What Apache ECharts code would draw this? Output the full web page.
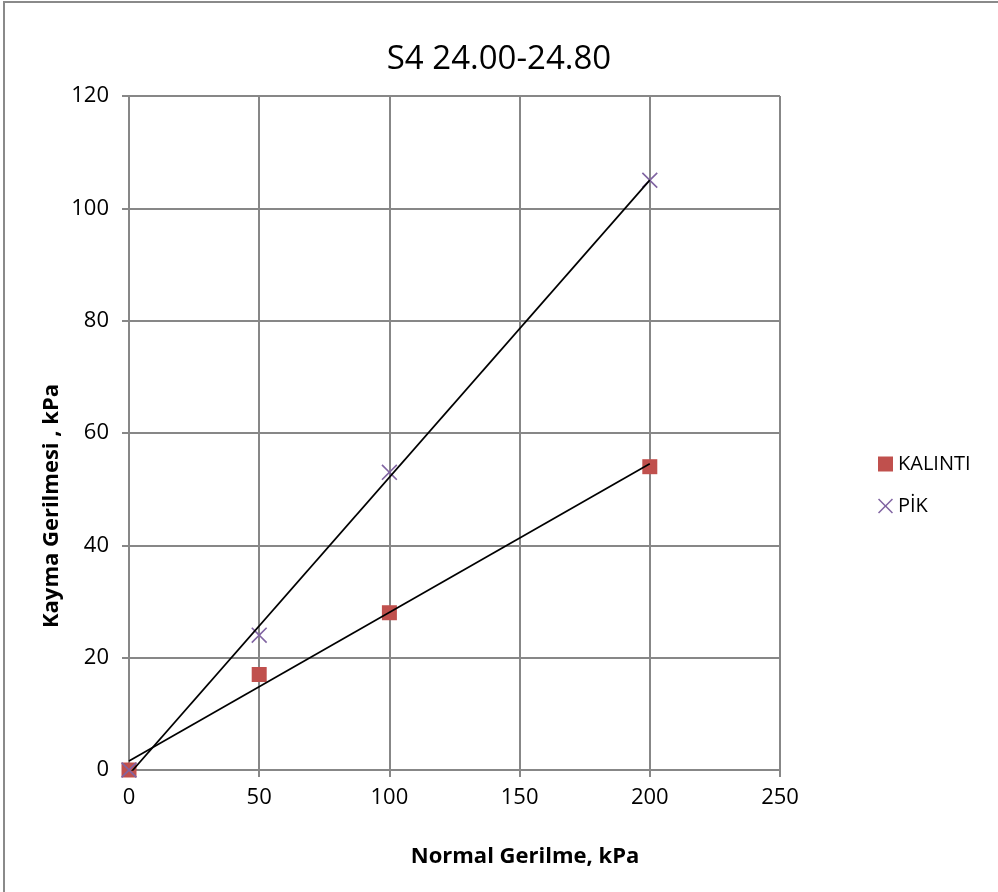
<!DOCTYPE html>
<html>
<head>
<meta charset="utf-8">
<script src="https://cdn.jsdelivr.net/npm/echarts@6/dist/echarts.min.js"></script>
<style>html,body{margin:0;padding:0;background:#fff;}#c{width:998px;height:892px;}</style>
</head>
<body>
<div id="c"></div>
<script>
const titleText = 'S4 24.00-24.80';
const xName = 'Normal Gerilme, kPa';
const yName = 'Kayma Gerilmesi , kPa';
const normalStress = [0, 50, 100, 200];
const kalinti = [0, 17, 28, 54];
const pik = [0, 24, 53, 105];
const seriesNames = ['KALINTI', 'PİK'];

function fit(xs, ys) {
  const n = xs.length;
  const mx = xs.reduce((a, b) => a + b, 0) / n;
  const my = ys.reduce((a, b) => a + b, 0) / n;
  let sxy = 0, sxx = 0;
  for (let i = 0; i < n; i++) { sxy += (xs[i] - mx) * (ys[i] - my); sxx += (xs[i] - mx) ** 2; }
  const b = sxy / sxx, a = my - b * mx;
  const x0 = Math.min(...xs), x1 = Math.max(...xs);
  return [[x0, a + b * x0], [x1, a + b * x1]];
}
const pairs = (ys) => normalStress.map((x, i) => [x, ys[i]]);
const crossPath = 'path://M0,1L1,0L7,6L13,0L14,1L8,7L14,13L13,14L7,8L1,14L0,13L6,7Z';
const font = 'Open Sans';

const chart = echarts.init(document.getElementById('c'));
chart.setOption({
  animation: false,
  backgroundColor: '#fff',
  title: { text: titleText, left: 494, textAlign: 'center', top: 38,
    textStyle: { fontFamily: font, fontSize: 33, fontWeight: 'normal', color: '#000' } },
  legend: {
    data: [{ name: seriesNames[0], icon: 'rect' }, { name: seriesNames[1], icon: crossPath }],
    orient: 'vertical', left: 873, top: 449, itemGap: 22, itemWidth: 15, itemHeight: 15,
    textStyle: { fontFamily: font, fontSize: 20, color: '#000' }
  },
  grid: { left: 129, right: 218, top: 96, bottom: 122 },
  xAxis: {
    type: 'value', min: 0, max: 250, interval: 50,
    axisLine: { show: true, lineStyle: { color: '#878787', width: 2 } },
    axisTick: { show: true, length: 7, lineStyle: { color: '#878787', width: 2 } },
    axisLabel: { fontFamily: font, fontSize: 22, color: '#000', margin: 17 },
    splitLine: { show: true, lineStyle: { color: '#878787', width: 2 } }
  },
  yAxis: {
    type: 'value', min: 0, max: 120, interval: 20,
    axisLine: { show: true, lineStyle: { color: '#878787', width: 2 } },
    axisTick: { show: true, length: 7, lineStyle: { color: '#878787', width: 2 } },
    axisLabel: { fontFamily: font, fontSize: 22, color: '#000', margin: 20 },
    splitLine: { show: true, lineStyle: { color: '#878787', width: 2 } }
  },
  graphic: [
    { type: 'rect', shape: { x: 4, y: 2, width: 1000, height: 900 }, style: { fill: 'none', stroke: '#8a8a8a', lineWidth: 2 }, silent: true },
    { type: 'text', x: 525, y: 857, style: { text: xName, fontFamily: font, fontSize: 22, fontWeight: 'bold', fill: '#000', textAlign: 'center', textVerticalAlign: 'middle' } },
    { type: 'text', x: 52, y: 506, rotation: Math.PI / 2, style: { text: yName, fontFamily: font, fontSize: 22, fontWeight: 'bold', fill: '#000', textAlign: 'center', textVerticalAlign: 'middle' } }
  ],
  series: [
    { name: seriesNames[0], type: 'scatter', data: pairs(kalinti), symbol: 'rect', symbolSize: 15,
      itemStyle: { color: '#C0504D', opacity: 1 }, z: 3 },
    { name: seriesNames[1], type: 'scatter', data: pairs(pik), symbol: crossPath, symbolSize: 16,
      itemStyle: { color: '#8064A2', opacity: 1 }, z: 4 },
    { name: 'trend1', type: 'line', data: fit(normalStress, kalinti), symbol: 'none',
      lineStyle: { color: '#000', width: 1.7 }, z: 5, silent: true },
    { name: 'trend2', type: 'line', data: fit(normalStress, pik), symbol: 'none',
      lineStyle: { color: '#000', width: 1.7 }, z: 5, silent: true }
  ]
});
</script>
</body>
</html>
